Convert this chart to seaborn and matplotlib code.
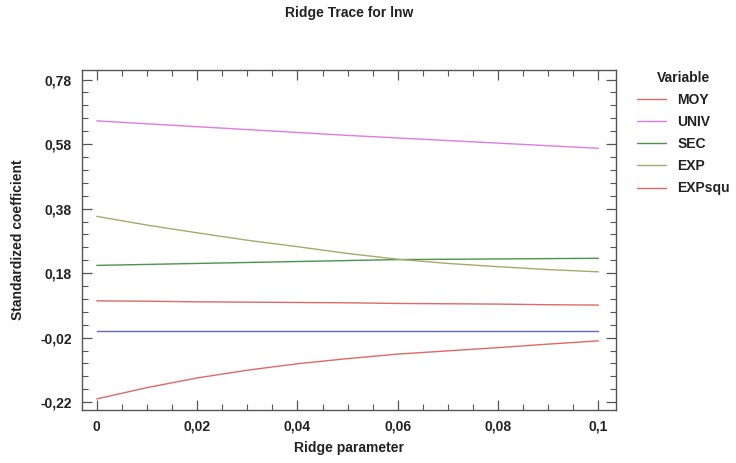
import pandas as pd
import numpy as np
import matplotlib
matplotlib.use('Agg')
import matplotlib.pyplot as plt
import seaborn as sns

# ridge parameter grid
ridge = [0.0, 0.01, 0.02, 0.03, 0.04, 0.05, 0.06, 0.07, 0.08, 0.09, 0.1]

# standardized coefficients
moy = [-0.210, -0.175, -0.145, -0.121, -0.101, -0.085, -0.071, -0.061, -0.051, -0.040, -0.030]
univ = [0.652, 0.643, 0.634, 0.625, 0.616, 0.607, 0.599, 0.591, 0.583, 0.575, 0.567]
sec = [0.204, 0.207, 0.210, 0.213, 0.216, 0.219, 0.222, 0.223, 0.224, 0.225, 0.226]
exp_ = [0.356, 0.329, 0.305, 0.282, 0.262, 0.241, 0.223, 0.210, 0.200, 0.191, 0.184]
expsqu = [0.094, 0.093, 0.091, 0.090, 0.089, 0.088, 0.086, 0.085, 0.084, 0.082, 0.081]
other = [0.000, 0.000, 0.000, 0.000, 0.000, 0.000, 0.000, 0.000, 0.000, 0.000, 0.000]

variables = ['MOY', 'UNIV', 'SEC', 'EXP', 'EXPsqu']
colors = ['#e06868', '#e27ae2', '#4a944a', '#a9a86c', '#e06868']

yticks = [-0.22, -0.02, 0.18, 0.38, 0.58, 0.78]
ytick_labels = ['-0,22', '-0,02', '0,18', '0,38', '0,58', '0,78']
xticks = [0, 0.02, 0.04, 0.06, 0.08, 0.1]
xtick_labels = ['0', '0,02', '0,04', '0,06', '0,08', '0,1']

df = pd.DataFrame({'Ridge parameter': ridge * 5,
                   'coef': moy + univ + sec + exp_ + expsqu,
                   'Variable': sum([[v] * len(ridge) for v in variables], [])})

sns.set_style('ticks')
plt.rcParams['font.family'] = ['Liberation Sans', 'DejaVu Sans']
plt.rcParams['font.weight'] = 'bold'

fig = plt.figure(figsize=(7.36, 4.63), dpi=100)
ax = fig.add_axes([0.111, 0.114, 0.726, 0.735])

sns.lineplot(x=ridge, y=other, color='#6464c8', lw=1.0, ax=ax, legend=False)
sns.lineplot(data=df, x='Ridge parameter', y='coef', hue='Variable',
             palette=colors, lw=1.0, ax=ax)

ax.set_xlim(-0.003, 0.1035)
ax.set_ylim(-0.245, 0.81)
ax.set_xticks(xticks)
ax.set_xticklabels(xtick_labels)
ax.set_yticks(yticks)
ax.set_yticklabels(ytick_labels)
ax.set_xticks(np.arange(0, 0.1001, 0.005), minor=True)
ax.set_yticks(np.arange(-0.22, 0.7801, 0.04), minor=True)
ax.tick_params(which='both', direction='in', top=True, right=True, color='#555555',
               labelsize=10, labelcolor='#222222')
ax.tick_params(which='major', length=7, width=0.9, pad=7)
ax.tick_params(which='minor', length=4, width=0.8)
for s in ax.spines.values():
    s.set_color('#555555')
    s.set_linewidth(1.0)

ax.set_xlabel('Ridge parameter', fontsize=10, fontweight='bold', color='#222222')
ax.set_ylabel('Standardized coefficient', fontsize=10, fontweight='bold', color='#222222')
ax.xaxis.set_label_coords(0.5, -0.09)
ax.yaxis.set_label_coords(-0.106, 0.5)
fig.text(0.474, 0.972, 'Ridge Trace for lnw', ha='center', va='center',
         fontsize=10, fontweight='bold', color='#222222')

leg = ax.legend(title='Variable', loc='upper left', bbox_to_anchor=(1.015, 1.035),
                frameon=False, fontsize=10, title_fontsize=10, handlelength=2.15,
                labelspacing=0.59, handletextpad=0.8)
leg.get_title().set_fontweight('bold')
leg.get_title().set_color('#222222')
for t in leg.get_texts():
    t.set_fontweight('bold')
    t.set_color('#222222')
for h in leg.get_lines():
    h.set_linewidth(1.0)

fig.savefig('out.png', dpi=100)
